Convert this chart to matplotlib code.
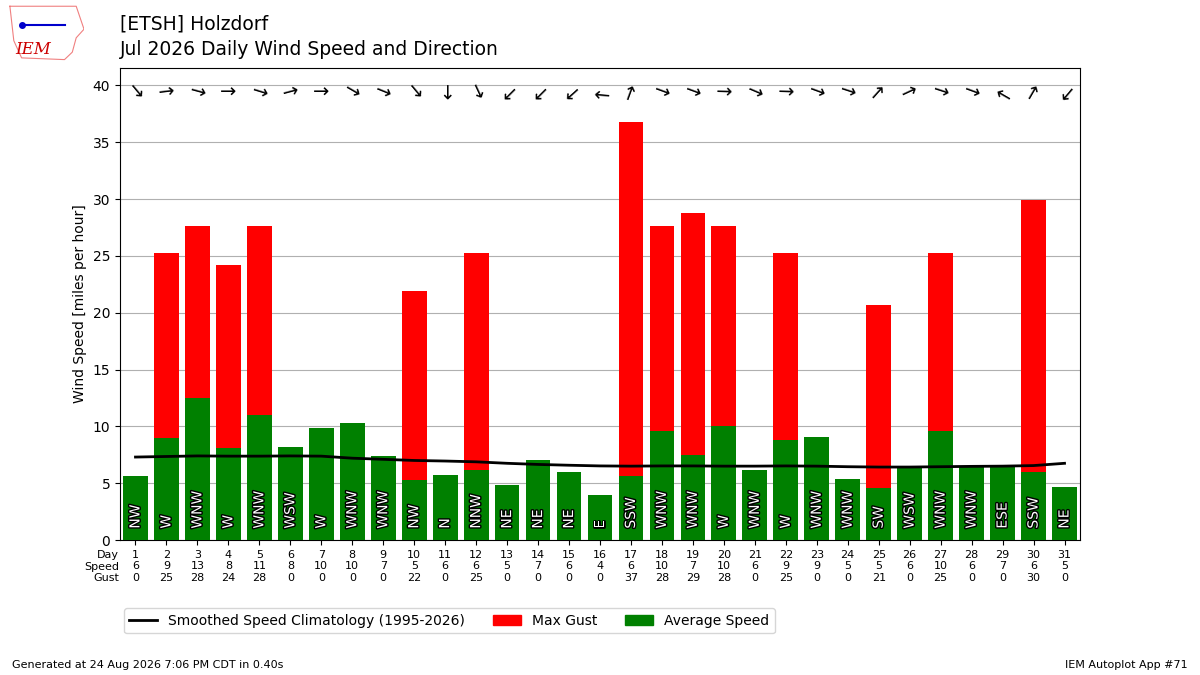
import matplotlib
matplotlib.use("Agg")
import matplotlib.pyplot as plt
import matplotlib.patches as mpatches
import matplotlib.patheffects as PathEffects
from matplotlib.lines import Line2D

# Daily data for July 2026
days = list(range(1, 32))
avg_speed = [5.6, 9.0, 12.5, 8.1, 11.0, 8.2, 9.9, 10.3, 7.4, 5.3,
             5.7, 6.2, 4.8, 7.0, 6.0, 4.0, 5.6, 9.6, 7.5, 10.0,
             6.2, 8.8, 9.1, 5.4, 4.6, 6.3, 9.6, 6.5, 6.5, 6.0, 4.7]
max_gust = [0, 25.3, 27.6, 24.2, 27.6, 0, 0, 0, 0, 21.9,
            0, 25.3, 0, 0, 0, 0, 36.8, 27.6, 28.8, 27.6,
            0, 25.3, 0, 0, 20.7, 0, 25.3, 0, 0, 29.9, 0]
direction_deg = [320, 263, 285, 270, 287, 255, 270, 300, 292, 320,
                 0, 335, 45, 45, 48, 95, 200, 290, 290, 272,
                 293, 272, 290, 288, 222, 245, 288, 290, 120, 210, 40]
direction_txt = ["NW", "W", "WNW", "W", "WNW", "WSW", "W", "WNW", "WNW", "NW",
                 "N", "NNW", "NE", "NE", "NE", "E", "SSW", "WNW", "WNW", "W",
                 "WNW", "W", "WNW", "WNW", "SW", "WSW", "WNW", "WNW", "ESE", "SSW", "NE"]
speed_row = [6, 9, 13, 8, 11, 8, 10, 10, 7, 5, 6, 6, 5, 7, 6, 4,
             6, 10, 7, 10, 6, 9, 9, 5, 5, 6, 10, 6, 7, 6, 5]
gust_row = [0, 25, 28, 24, 28, 0, 0, 0, 0, 22, 0, 25, 0, 0, 0, 0,
            37, 28, 29, 28, 0, 25, 0, 0, 21, 0, 25, 0, 0, 30, 0]
climo = [7.3, 7.35, 7.4, 7.38, 7.38, 7.4, 7.38, 7.2, 7.1, 7.0,
         6.95, 6.88, 6.75, 6.65, 6.58, 6.52, 6.5, 6.52, 6.52, 6.5,
         6.5, 6.52, 6.5, 6.45, 6.42, 6.42, 6.45, 6.48, 6.5, 6.55, 6.75]

fig = plt.figure(figsize=(12, 6.75), dpi=100)
ax = fig.add_axes([0.1, 0.2, 0.8, 0.7])

ax.bar(days, max_gust, width=0.8, color="r", zorder=2)
ax.bar(days, avg_speed, width=0.8, color="g", zorder=3)
ax.plot(days, climo, color="k", lw=2, zorder=4)

for d, txt in zip(days, direction_txt):
    t = ax.text(d, 1, txt, rotation=90, ha="center", va="bottom",
                color="white", fontsize=10, zorder=5)
    t.set_path_effects([PathEffects.withStroke(linewidth=2, foreground="k")])

# arrows pointing where the wind blows to
for d, deg in zip(days, direction_deg):
    ang = 90 - (deg + 180)
    ax.text(d, 39.4, "\u2192", rotation=ang, rotation_mode="anchor",
            ha="center", va="center", fontsize=14, zorder=6)

ax.set_xlim(0.5, 31.5)
ax.set_ylim(0, max(max_gust) * 1.13)
ax.set_xticks(days)
ax.set_xticklabels(["%s\n%s\n%s" % (d, s, g) for d, s, g in zip(days, speed_row, gust_row)],
                   fontsize=8, linespacing=1.2)
ax.text(-0.001, -0.021, "Day\nSpeed\nGust", transform=ax.transAxes, ha="right",
        va="top", fontsize=8, linespacing=1.2)
ax.set_yticks(range(0, 41, 5))
ax.set_ylabel("Wind Speed [miles per hour]")
ax.grid(axis="y", color="#b0b0b0", zorder=0)
ax.set_axisbelow(True)

handles = [Line2D([], [], color="k", lw=2, label="Smoothed Speed Climatology (1995-2026)"),
           mpatches.Patch(color="r", label="Max Gust"),
           mpatches.Patch(color="g", label="Average Speed")]
ax.legend(handles=handles, ncol=3, loc="upper center", bbox_to_anchor=(0.343, -0.13))

fig.text(0.1, 0.978, "[ETSH] Holzdorf\nJul 2026 Daily Wind Speed and Direction",
         fontsize=13.5, va="top", linespacing=1.38)
fig.text(0.01, 0.01, "Generated at 24 Aug 2026 7:06 PM CDT in 0.40s", fontsize=8)
fig.text(0.99, 0.01, "IEM Autoplot App #71", fontsize=8, ha="right")

# rough logo
lax = fig.add_axes([0.005, 0.91, 0.065, 0.085])
lax.axis("off")
lax.set_xlim(0, 1)
lax.set_ylim(0, 1)
lax.plot([0.05, 0.9, 0.95, 1.0, 0.9, 0.85, 0.75, 0.2, 0.1, 0.05],
         [0.95, 0.95, 0.75, 0.55, 0.4, 0.15, 0.02, 0.05, 0.35, 0.95],
         color="#f08080", lw=0.8)
lax.plot([0.2, 0.75], [0.62, 0.62], color="#0000cc", lw=1.5)
lax.plot([0.2], [0.62], "o", color="#0000cc", ms=4)
lax.text(0.35, 0.12, "IEM", color="#cc0000", fontsize=12, family="serif",
         style="italic", ha="center")

fig.savefig("out.png", dpi=100)
